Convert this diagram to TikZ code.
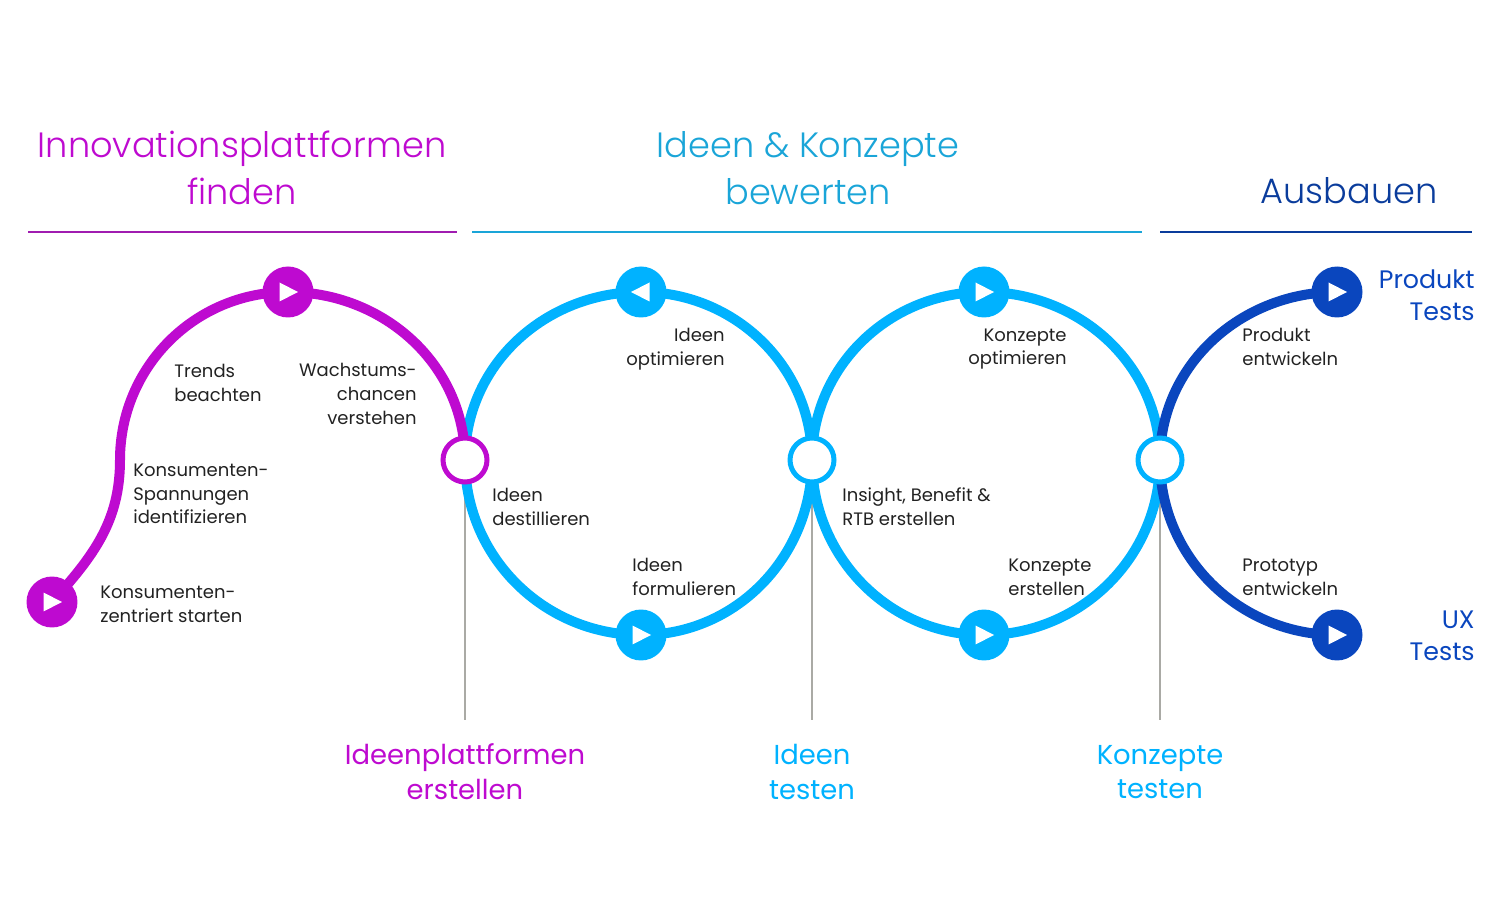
\documentclass[tikz,border=0pt]{standalone}
\usepackage{fontspec}
\setmainfont{Poppins}
\newfontfamily\headfont[UprightFont=* Light]{Poppins}
\usetikzlibrary{backgrounds}
\definecolor{pmagenta}{RGB}{190,10,208}
\definecolor{pcyan}{RGB}{0,178,255}
\definecolor{pblue}{RGB}{10,70,190}
\definecolor{ruleM}{RGB}{160,28,176}
\definecolor{ruleC}{RGB}{26,165,216}
\definecolor{ruleB}{RGB}{10,60,156}
\definecolor{stemgray}{RGB}{170,170,165}
\definecolor{labeltext}{RGB}{34,34,34}

\begin{document}
\begin{tikzpicture}[
        x=0.02cm, y=0.02cm,
        lbl/.style={font=\fontsize{10.25}{13.5}\selectfont, text=labeltext, inner sep=0pt},
        lblL/.style={lbl, anchor=west, align=left},
        lblR/.style={lbl, anchor=east, align=right},
        hub/.style={circle, draw=#1, line width=0.1cm, fill=white, minimum size=0.88cm, inner sep=0pt},
        play/.style={circle, fill=#1, minimum size=1.02cm, inner sep=0pt, path picture={
            \fill[white] ([xshift=-0.17cm,yshift=0.19cm]path picture bounding box.center) --
                ([xshift=0.2cm]path picture bounding box.center) --
                ([xshift=-0.17cm,yshift=-0.19cm]path picture bounding box.center) -- cycle;}},
        playback/.style={circle, fill=#1, minimum size=1.02cm, inner sep=0pt, path picture={
            \fill[white] ([xshift=0.17cm,yshift=0.19cm]path picture bounding box.center) --
                ([xshift=-0.2cm]path picture bounding box.center) --
                ([xshift=0.17cm,yshift=-0.19cm]path picture bounding box.center) -- cycle;}},
        track/.style={line width=0.2cm, draw=#1},
        stem/.style={draw=stemgray, line width=0.03cm},
        toprule/.style={draw=#1, line width=0.05cm},
        headline/.style={font=\headfont\fontsize{20}{26.6}\selectfont, align=center, inner sep=0pt, text=#1},
        gate/.style={font=\fontsize{15.6}{19.8}\selectfont, align=center, inner sep=0pt, text=#1},
        testlbl/.style={font=\fontsize{14.4}{18.1}\selectfont, text=pblue, anchor=east, align=right, inner sep=0pt},
    ]
        \useasboundingbox (0,0) rectangle (1500,923);

        \node[hub=pmagenta] (hubA) at (465,463) {};
        \node[hub=pcyan] (hubB) at (812,463) {};
        \node[hub=pcyan] (hubC) at (1160,463) {};

        \node[play=pmagenta] (start) at (52,321) {};
        \node[play=pmagenta] (trends) at (288,631) {};
        \node[playback=pcyan] (optA) at (641,631) {};
        \node[play=pcyan] (formA) at (641,288) {};
        \node[play=pcyan] (optB) at (984,631) {};
        \node[play=pcyan] (formB) at (984,288) {};
        \node[play=pblue] (produkt) at (1337,631) {};
        \node[play=pblue] (proto) at (1337,288) {};

        \coordinate (bend) at (120,463);
        \coordinate (stemA) at (465,203);
        \coordinate (stemB) at (812,203);
        \coordinate (stemC) at (1160,203);

        % Tracks
        \begin{scope}[on background layer]
            \draw[stem] (hubA.center) -- (stemA);
            \draw[stem] (hubB.center) -- (stemB);
            \draw[stem] (hubC.center) -- (stemC);

            \draw[track=pcyan] (hubA.center) to[out=90,in=180] (optA.center);
            \draw[track=pcyan] (optA.center) to[out=0,in=90] (hubB.center);
            \draw[track=pcyan] (hubB.center) to[out=-90,in=0] (formA.center);
            \draw[track=pcyan] (formA.center) to[out=180,in=-90] (hubA.center);
            \draw[track=pcyan] (hubB.center) to[out=90,in=180] (optB.center);
            \draw[track=pcyan] (optB.center) to[out=0,in=90] (hubC.center);
            \draw[track=pcyan] (hubC.center) to[out=-90,in=0] (formB.center);
            \draw[track=pcyan] (formB.center) to[out=180,in=-90] (hubB.center);

            \draw[track=pmagenta] (start.center) to[out=48,in=-90] (bend);
            \draw[track=pmagenta] (bend) to[out=90,in=180] (trends.center);
            \draw[track=pmagenta] (trends.center) to[out=0,in=90] (hubA.center);

            \draw[track=pblue] (hubC.center) to[out=90,in=180] (produkt.center);
            \draw[track=pblue] (hubC.center) to[out=-90,in=180] (proto.center);
        \end{scope}

        % Labels
        \node[lblL] (lStart) at (100,319) {Konsumenten-\\zentriert starten};
        \node[lblL] (lSpann) at (133,429) {Konsumenten-\\Spannungen\\identifizieren};
        \node[lblL] (lTrends) at (174,540) {Trends\\beachten};
        \node[lblR] (lWachs) at (417,529) {Wachstums-\\chancen\\verstehen};
        \node[lblL] (lDest) at (492,416) {Ideen\\destillieren};
        \node[lblR] (lOptA) at (725,574) {Ideen\\optimieren};
        \node[lblL] (lFormA) at (632,346) {Ideen\\formulieren};
        \node[lblL] (lInsight) at (842,416) {Insight, Benefit \&\\RTB erstellen};
        \node[lblR] (lOptB) at (1067,574) {Konzepte\\optimieren};
        \node[lblL] (lFormB) at (1008,346) {Konzepte\\erstellen};
        \node[lblL] (lProd) at (1242,576) {Produkt\\entwickeln};
        \node[lblL] (lProto) at (1242,346) {Prototyp\\entwickeln};

        \node[testlbl] (tProd) at (1475,628) {Produkt\\Tests};
        \node[testlbl] (tUX) at (1475,287) {UX\\Tests};

        \node[gate=pmagenta] (gA) at (465,151) {Ideenplattformen\\erstellen};
        \node[gate=pcyan] (gB) at (812,151) {Ideen\\testen};
        \node[gate=pcyan] (gC) at (1160,151) {Konzepte\\testen};

        % Headings
        \node[headline=pmagenta] (hInno) at (242,755) {Innovationsplattformen\\finden};
        \node[headline=ruleC] (hIdeen) at (808,755) {Ideen \& Konzepte\\bewerten};
        \node[headline=ruleB] (hAus) at (1349,732) {Ausbauen};

        \coordinate (r1a) at (28,691);
        \coordinate (r1b) at (457,691);
        \coordinate (r2a) at (472,691);
        \coordinate (r2b) at (1142,691);
        \coordinate (r3a) at (1160,691);
        \coordinate (r3b) at (1472,691);
        \draw[toprule=ruleM] (r1a) -- (r1b);
        \draw[toprule=ruleC] (r2a) -- (r2b);
        \draw[toprule=ruleB] (r3a) -- (r3b);
    \end{tikzpicture}
\end{document}
